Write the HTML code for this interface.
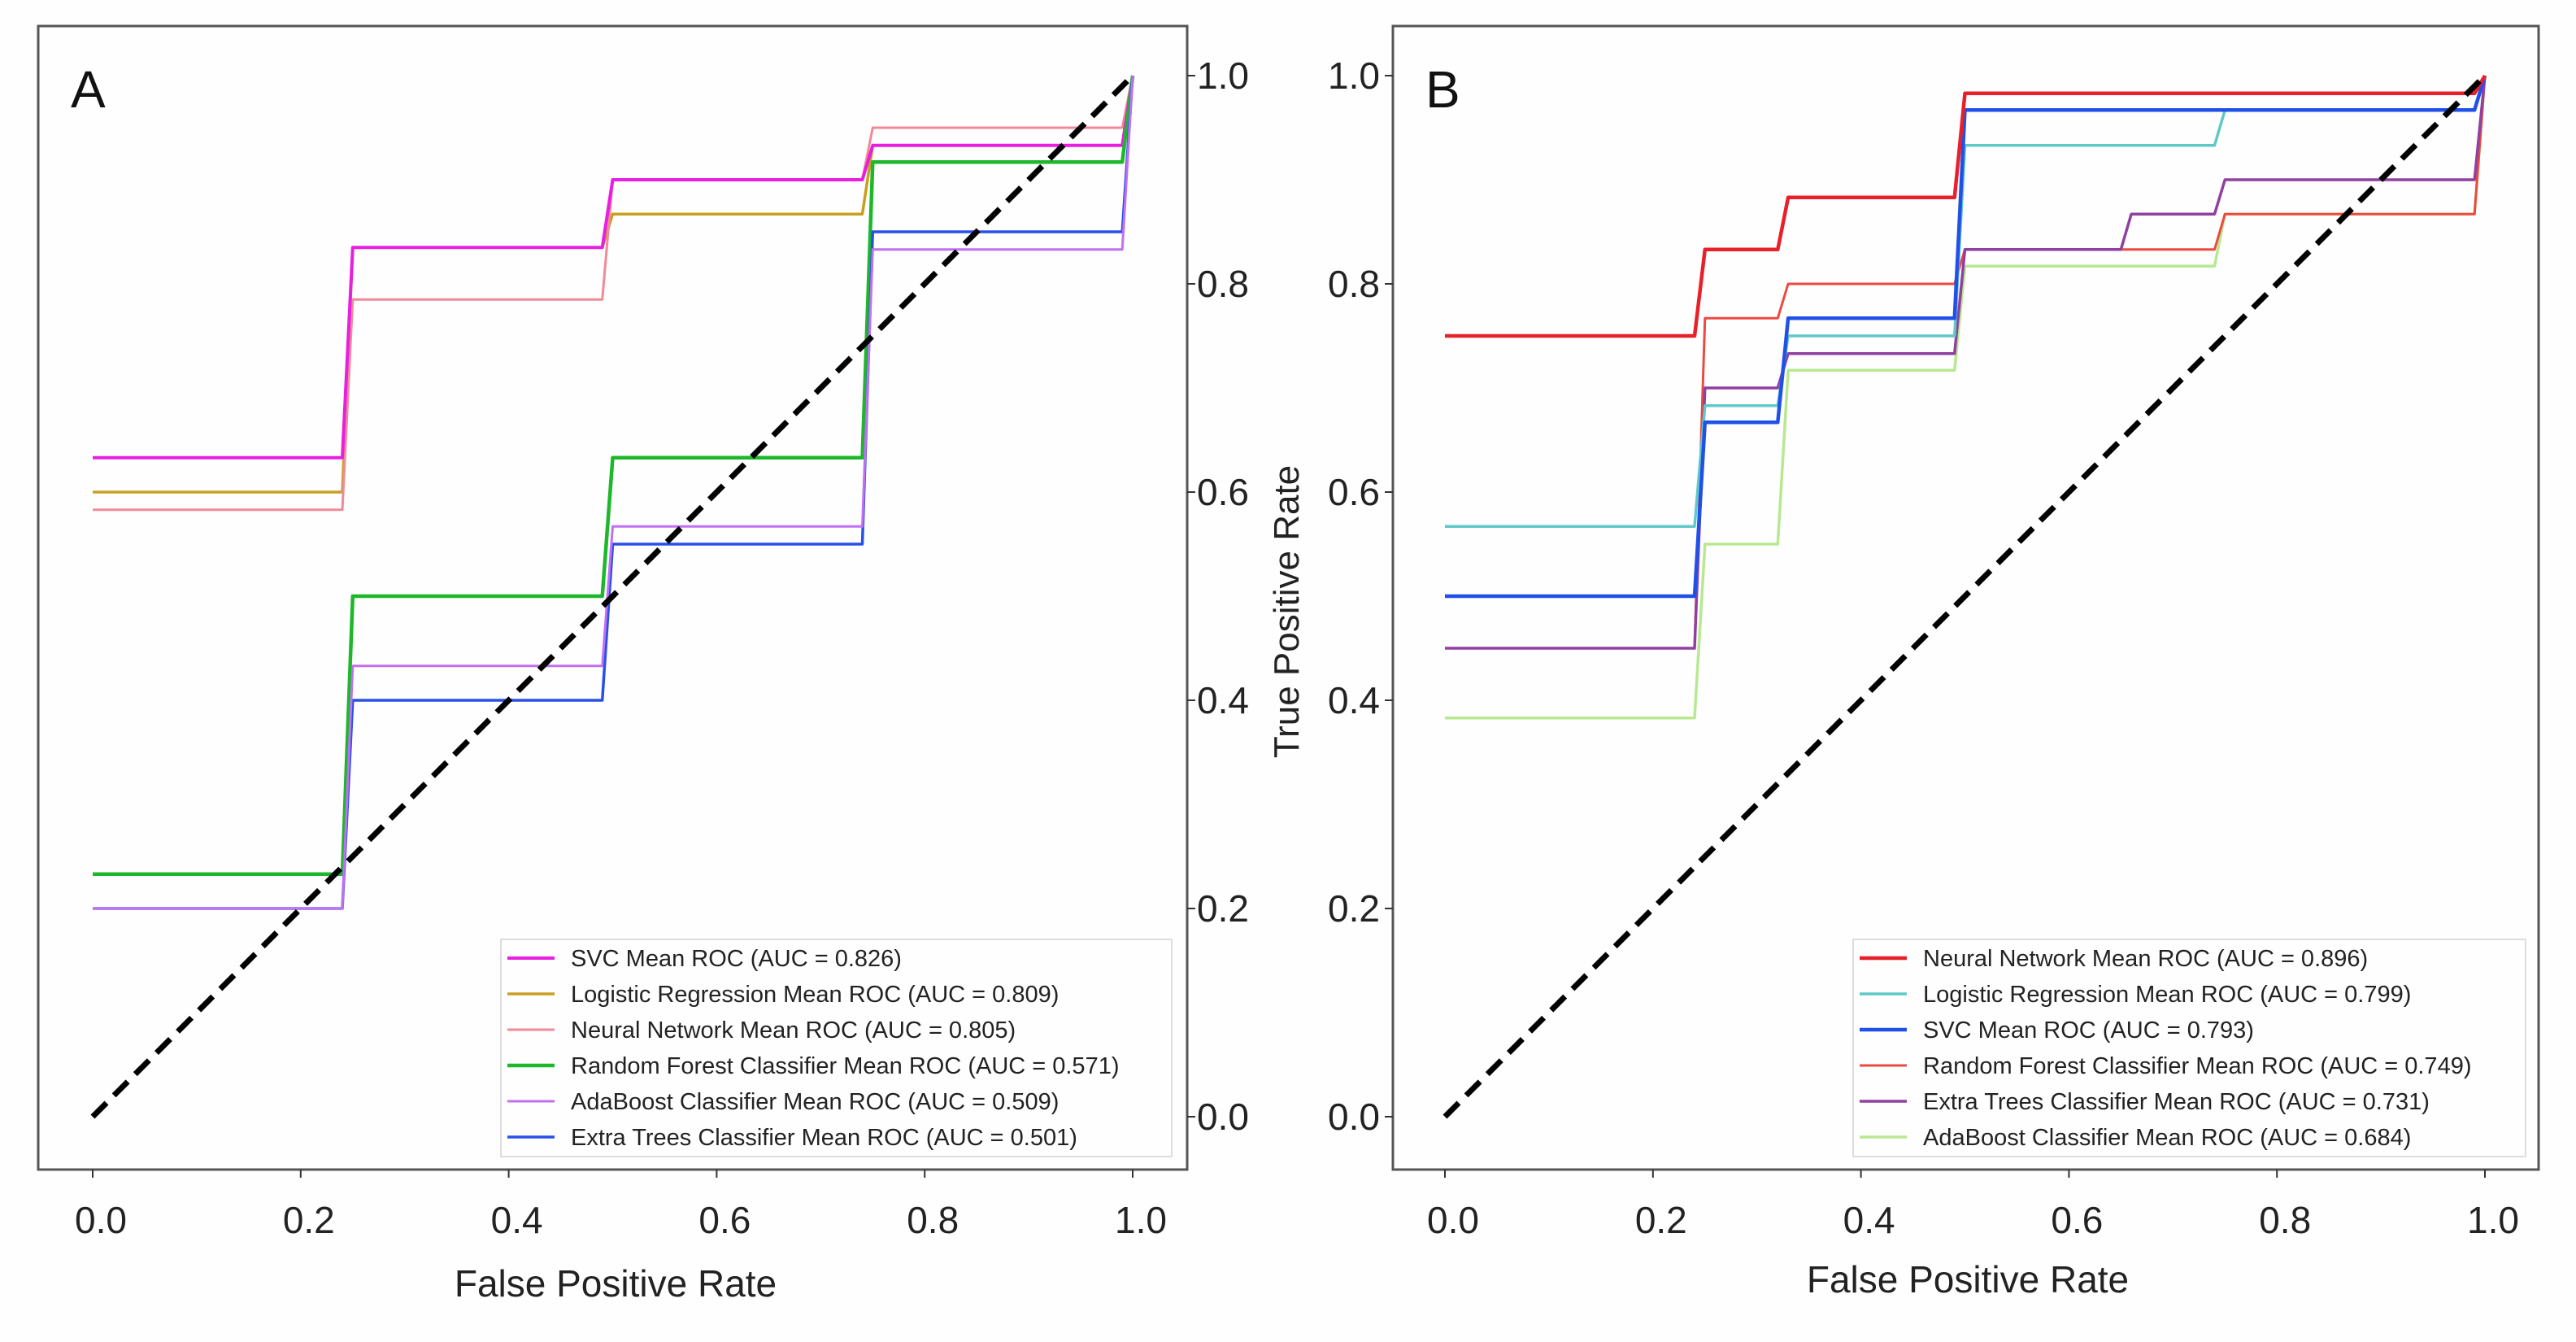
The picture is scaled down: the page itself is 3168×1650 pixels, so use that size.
<!DOCTYPE html>
<html><head><meta charset="utf-8"><style>
html,body{margin:0;padding:0;background:#fff}
svg{display:block;font-family:"Liberation Sans","DejaVu Sans",sans-serif}
</style></head><body>
<svg id="fig" width="3168" height="1650" viewBox="0 0 3168 1650" xmlns="http://www.w3.org/2000/svg">
<rect x="0" y="0" width="3168" height="1650" fill="#fefefe"/>
<g id="panelA"></g>
<g id="panelB"></g>
<text x="0" y="0" transform="translate(1597,752) rotate(-90)" text-anchor="middle" font-size="44" fill="#222">True Positive Rate</text>
</svg>
<script>
// ---- Panel A data ----
const aNames = ["SVC Mean ROC (AUC = 0.826)","Logistic Regression Mean ROC (AUC = 0.809)","Neural Network Mean ROC (AUC = 0.805)","Random Forest Classifier  Mean ROC (AUC = 0.571)","AdaBoost Classifier Mean ROC (AUC = 0.509)","Extra Trees Classifier Mean ROC (AUC = 0.501)"];
const aColors = ["#e81ee0","#c8a020","#f08a98","#1db82a","#c070f0","#2850e8"];
const aFpr = [0,0.24,0.25,0.49,0.50,0.74,0.75,0.99,1.0];
const aSVC = [0.633,0.633,0.835,0.835,0.9,0.9,0.933,0.933,1.0];
const aLR  = [0.6,0.6,0.835,0.835,0.867,0.867,0.933,0.933,1.0];
const aNN  = [0.583,0.583,0.785,0.785,0.9,0.9,0.95,0.95,1.0];
const aRF  = [0.233,0.233,0.5,0.5,0.633,0.633,0.917,0.917,1.0];
const aADA = [0.2,0.2,0.433,0.433,0.567,0.567,0.833,0.833,1.0];
const aET  = [0.2,0.2,0.4,0.4,0.55,0.55,0.85,0.85,1.0];
const aDrawOrder = [1,2,0,3,5,4];
// ---- Panel B data ----
const bNames = ["Neural Network Mean ROC (AUC = 0.896)","Logistic Regression Mean ROC (AUC = 0.799)","SVC Mean ROC (AUC = 0.793)","Random Forest Classifier Mean ROC (AUC = 0.749)","Extra Trees Classifier Mean ROC (AUC = 0.731)","AdaBoost Classifier Mean ROC (AUC = 0.684)"];
const bColors = ["#e8202a","#60c8c8","#2050e8","#ec4a40","#9040a0","#b8e890"];
const bFpr = [0,0.24,0.25,0.32,0.33,0.49,0.50,0.65,0.66,0.74,0.75,0.99,1.0];
const bNN  = [0.75,0.75,0.833,0.833,0.883,0.883,0.983,0.983,0.983,0.983,0.983,0.983,1.0];
const bLR  = [0.567,0.567,0.683,0.683,0.75,0.75,0.933,0.933,0.933,0.933,0.967,0.967,1.0];
const bSVC = [0.5,0.5,0.667,0.667,0.767,0.767,0.967,0.967,0.967,0.967,0.967,0.967,1.0];
const bRF  = [0.45,0.45,0.767,0.767,0.8,0.8,0.833,0.833,0.833,0.833,0.867,0.867,1.0];
const bET  = [0.45,0.45,0.7,0.7,0.733,0.733,0.833,0.833,0.867,0.867,0.9,0.9,1.0];
const bADA = [0.383,0.383,0.55,0.55,0.717,0.717,0.817,0.817,0.817,0.817,0.867,0.867,1.0];
const bDrawOrder = [5,3,4,1,2,0];
const ticks = [0,0.2,0.4,0.6,0.8,1.0];
const tickLabels = ["0.0","0.2","0.4","0.6","0.8","1.0"];

const NS="http://www.w3.org/2000/svg";
function mk(parent,tag,attrs){const e=document.createElementNS(NS,tag);for(const k in attrs)e.setAttribute(k,attrs[k]);parent.appendChild(e);return e;}

function drawPanel(g,cfg){
  const sx=v=>cfg.x0+(cfg.x1-cfg.x0)*v;
  const sy=v=>cfg.y0+(cfg.y1-cfg.y0)*v;
  const frame=mk(g,"rect",{x:cfg.fl,y:cfg.ft,width:cfg.fr-cfg.fl,height:cfg.fb-cfg.ft,fill:"#fefefe",stroke:"#555","stroke-width":3});
  
  
  ticks.forEach((t,i)=>{
    const xt=mk(g,"line",{x1:sx(t),x2:sx(t),y1:cfg.fb,y2:cfg.fb+10,stroke:"#333","stroke-width":2});
    
    
    const xl=mk(g,"text",{x:sx(t)+10,y:cfg.fb+78,"text-anchor":"middle","font-size":46,fill:"#222"});
    xl.textContent=tickLabels[i];
    
    
    const ytx=cfg.right?cfg.fr:cfg.fl;
    const yt=mk(g,"line",{x1:ytx,x2:cfg.right?ytx+10:ytx-10,y1:sy(t),y2:sy(t),stroke:"#333","stroke-width":2});
    
    
    const yl=mk(g,"text",{x:cfg.right?cfg.fr+12:cfg.fl-16,y:sy(t)+16,"text-anchor":cfg.right?"start":"end","font-size":46,fill:"#222"});
    yl.textContent=tickLabels[i];
    
    
  });
  cfg.order.forEach(i=>{
    const ys=cfg.series[i];
    const pts=cfg.fpr.map((f,j)=>sx(f).toFixed(1)+","+sy(ys[j]).toFixed(1)).join(" ");
    const pl=mk(g,"polyline",{points:pts,fill:"none",stroke:cfg.colors[i],"stroke-width":cfg.widths[i],"stroke-linejoin":"round"});
    
    
  });
  const dg=mk(g,"line",{x1:sx(0),y1:sy(0),x2:sx(1),y2:sy(1),stroke:"#000","stroke-width":7,"stroke-dasharray":"24 13"});
  
  
  const lg=mk(g,"g",{});
  
  
  const lb=mk(lg,"rect",{x:cfg.lx,y:cfg.ly,width:cfg.lw,height:267,fill:"#fefefe",stroke:"#ddd","stroke-width":2});
  
  
  cfg.names.forEach((n,i)=>{
    const yy=cfg.ly+23+i*44;
    const ln=mk(lg,"line",{x1:cfg.lx+8,x2:cfg.lx+66,y1:yy,y2:yy,stroke:cfg.colors[i],"stroke-width":cfg.widths[i]});
    
    
    const tx=mk(lg,"text",{x:cfg.lx+86,y:yy+10,"font-size":29,fill:"#222"});
    tx.textContent=n;
    
    
  });
  const lab=mk(g,"text",{x:cfg.fl+40,y:cfg.ft+100,"font-size":64,fill:"#111"});
  lab.textContent=cfg.label;
  
  
  const xl=mk(g,"text",{x:cfg.xlabX,y:cfg.xlabY,"text-anchor":"middle","font-size":46,fill:"#222"});
  xl.textContent="False Positive Rate";
  
  
}

drawPanel(document.getElementById("panelA"),{
  fl:47,ft:32,fr:1460,fb:1438,x0:114,x1:1393,y0:1373,y1:93,right:true,
  fpr:aFpr,series:[aSVC,aLR,aNN,aRF,aADA,aET],colors:aColors,widths:[4,3.5,3,4.5,3,3.5],order:aDrawOrder,
  names:aNames,lx:616,ly:1155,lw:825,label:"A",xlabX:757,xlabY:1594
});
drawPanel(document.getElementById("panelB"),{
  fl:1713,ft:32,fr:3122,fb:1438,x0:1777,x1:3056,y0:1373,y1:93,right:false,
  fpr:bFpr,series:[bNN,bLR,bSVC,bRF,bET,bADA],colors:bColors,widths:[4.5,3.5,4.5,3,3.5,3.5],order:bDrawOrder,
  names:bNames,lx:2279,ly:1155,lw:827,label:"B",xlabX:2420,xlabY:1589
});
</script>
</body></html>
